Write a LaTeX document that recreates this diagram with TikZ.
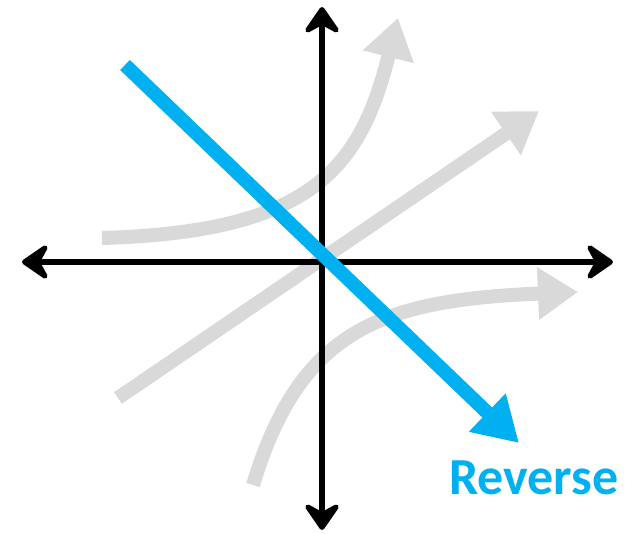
\documentclass[tikz,border=0pt]{standalone}
\usepackage{fontspec}
\setmainfont{Carlito}
\usetikzlibrary{arrows.meta}
\definecolor{paleGray}{HTML}{D9D9D9}
\definecolor{revBlue}{HTML}{00B0F0}
\tikzset{
  axisline/.style={line width=5.5pt, -{Stealth[length=32pt, width=44pt, inset=12pt, round]}, line cap=round},
  grayarrow/.style={paleGray, line width=14pt, -{Triangle[length=40pt, width=50pt]}},
  bluearrow/.style={revBlue, line width=14pt, -{Triangle[length=44pt, width=50pt]}}
}
\begin{document}
\begin{tikzpicture}[x=1pt, y=-1pt]
  \useasboundingbox (0,0) rectangle (634,533);

  % Gray curves
  \coordinate (upStart) at (102,238);
  \coordinate (upEnd) at (398,18);
  \draw[grayarrow] (upStart) .. controls (310,232) and (360,170) .. (upEnd);
  \coordinate (lineStart) at (118,398);
  \coordinate (lineEnd) at (539,111);
  \draw[grayarrow] (lineStart) -- (lineEnd);
  \coordinate (lowStart) at (253,485);
  \coordinate (lowEnd) at (578,292);
  \draw[grayarrow] (lowStart) .. controls (300,330) and (380,300) .. (lowEnd);

  % Axes
  \coordinate (origin) at (322,262);
  \coordinate (xLeft) at (22,262);
  \coordinate (xRight) at (613,262);
  \coordinate (yTop) at (322,7);
  \coordinate (yBottom) at (322,530);
  \draw[axisline] (origin) -- (xLeft);
  \draw[axisline] (origin) -- (xRight);
  \draw[axisline] (origin) -- (yTop);
  \draw[axisline] (origin) -- (yBottom);

  % Reverse
  \coordinate (revStart) at (125,65);
  \coordinate (revEnd) at (519,443);
  \draw[bluearrow] (revStart) -- (revEnd);
  \node[revBlue, font=\fontsize{52}{60}\selectfont\bfseries] (revLabel) at (534,478) {Reverse};
\end{tikzpicture}
\end{document}
